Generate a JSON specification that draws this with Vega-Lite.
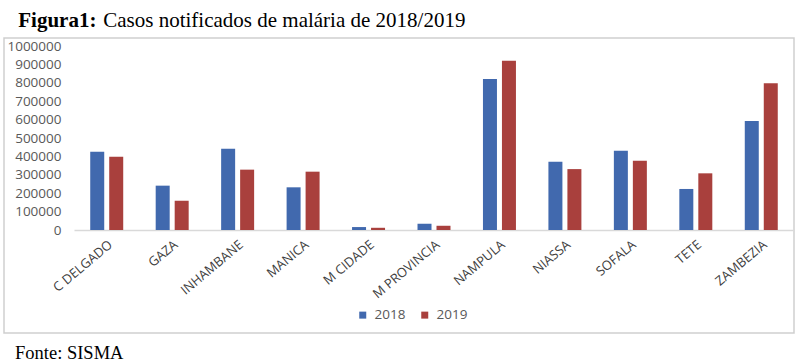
{
  "$schema": "https://vega.github.io/schema/vega-lite/v6.json",
  "padding": {"left": 3, "top": 10, "right": 7, "bottom": 2},
  "background": "white",
  "config": {
    "font": "Liberation Serif",
    "view": {"stroke": "#cfcfcf", "strokeWidth": 1.5},
    "title": {"color": "#000000", "font": "Liberation Serif"}
  },
  "title": {"text": "Figura1:", "anchor": "start", "fontSize": 21, "fontWeight": "bold", "offset": 0, "dx": 15, "dy": 21},
  "vconcat": [
    {
      "title": {"text": "Casos notificados de malária de 2018/2019", "anchor": "start", "fontSize": 21, "fontWeight": "normal", "offset": 6, "dx": 100},
      "vconcat": [
        {
          "title": {"text": "Fonte: SISMA", "orient": "bottom", "anchor": "start", "fontSize": 18.5, "fontWeight": "normal", "offset": 11, "dx": 11},
          "width": 790,
          "height": 295,
          "data": {
            "values": [
              {"provincia": "C DELGADO", "ano": "2018", "casos": 425000},
              {"provincia": "C DELGADO", "ano": "2019", "casos": 398000},
              {"provincia": "GAZA", "ano": "2018", "casos": 241000},
              {"provincia": "GAZA", "ano": "2019", "casos": 159000},
              {"provincia": "INHAMBANE", "ano": "2018", "casos": 442000},
              {"provincia": "INHAMBANE", "ano": "2019", "casos": 328000},
              {"provincia": "MANICA", "ano": "2018", "casos": 232000},
              {"provincia": "MANICA", "ano": "2019", "casos": 317000},
              {"provincia": "M CIDADE", "ano": "2018", "casos": 16000},
              {"provincia": "M CIDADE", "ano": "2019", "casos": 12000},
              {"provincia": "M PROVINCIA", "ano": "2018", "casos": 34000},
              {"provincia": "M PROVINCIA", "ano": "2019", "casos": 23000},
              {"provincia": "NAMPULA", "ano": "2018", "casos": 821000},
              {"provincia": "NAMPULA", "ano": "2019", "casos": 920000},
              {"provincia": "NIASSA", "ano": "2018", "casos": 371000},
              {"provincia": "NIASSA", "ano": "2019", "casos": 331000},
              {"provincia": "SOFALA", "ano": "2018", "casos": 431000},
              {"provincia": "SOFALA", "ano": "2019", "casos": 377000},
              {"provincia": "TETE", "ano": "2018", "casos": 223000},
              {"provincia": "TETE", "ano": "2019", "casos": 308000},
              {"provincia": "ZAMBEZIA", "ano": "2018", "casos": 592000},
              {"provincia": "ZAMBEZIA", "ano": "2019", "casos": 797000}
            ]
          },
          "mark": {"type": "bar"},
          "encoding": {
            "x": {
              "field": "provincia",
              "type": "nominal",
              "sort": null,
              "scale": {"range": [70, 790], "paddingInner": 0.496, "paddingOuter": 0.248},
              "axis": {
                "title": null,
                "orient": "bottom",
                "offset": -103,
                "labelAngle": -40,
                "labelFont": "Open Sans",
                "labelFontSize": 13,
                "labelColor": "#404040",
                "labelPadding": 8,
                "ticks": false,
                "tickSize": 0,
                "domainColor": "#d9d9d9",
                "domainWidth": 1.5,
                "grid": false
              }
            },
            "xOffset": {
              "field": "ano",
              "type": "nominal",
              "scale": {"paddingInner": 0.263, "paddingOuter": 0}
            },
            "y": {
              "field": "casos",
              "type": "quantitative",
              "scale": {"domain": [0, 1000000], "range": [192, 8], "nice": false},
              "axis": {
                "title": null,
                "offset": -60,
                "values": [0, 100000, 200000, 300000, 400000, 500000, 600000, 700000, 800000, 900000, 1000000],
                "format": "d",
                "labelFont": "Open Sans",
                "labelFontSize": 13.5,
                "labelColor": "#595959",
                "labelPadding": 3,
                "ticks": false,
                "tickSize": 0,
                "domain": false,
                "grid": false
              }
            },
            "color": {
              "field": "ano",
              "type": "nominal",
              "scale": {"domain": ["2018", "2019"], "range": ["#4169AE", "#A9403D"]},
              "legend": {
                "title": null,
                "orient": "none",
                "legendX": 352,
                "legendY": 270,
                "direction": "horizontal",
                "symbolType": "square",
                "symbolSize": 49,
                "symbolStrokeWidth": 0,
                "labelFont": "Open Sans",
                "labelFontSize": 13.5,
                "labelColor": "#595959",
                "labelOffset": 5,
                "columnPadding": 12
              }
            }
          }
        }
      ]
    }
  ]
}
